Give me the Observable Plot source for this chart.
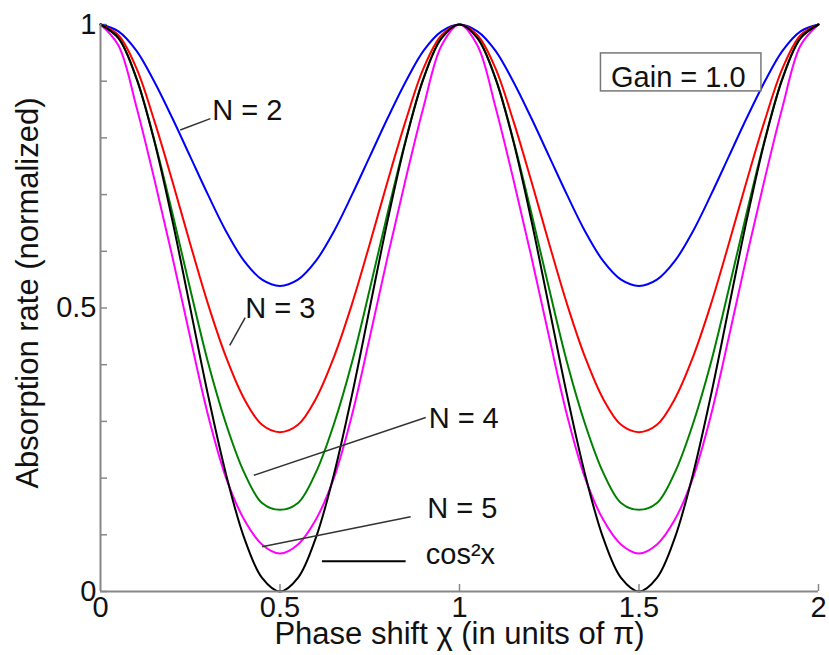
<!DOCTYPE html>
<html>
<head>
<meta charset="utf-8">
<script src="https://cdn.jsdelivr.net/npm/d3@7"></script>
<script src="https://cdn.jsdelivr.net/npm/@observablehq/plot@0.6"></script>
<style>
  body { margin: 0; background: #fff; }
</style>
</head>
<body>
<div id="chart"></div>
<script>
// Phase shift (in units of pi)
const phase = [0,0.05,0.1,0.15,0.2,0.25,0.3,0.35,0.4,0.45,0.5,0.55,0.6,0.65,0.7,0.75,0.8,0.85,0.9,0.95,1,1.05,1.1,1.15,1.2,1.25,1.3,1.35,1.4,1.45,1.5,1.55,1.6,1.65,1.7,1.75,1.8,1.85,1.9,1.95,2];

// Absorption rate (normalized)
const n2 = [1,0.988,0.954,0.899,0.835,0.767,0.699,0.635,0.583,0.550,0.539,0.550,0.583,0.635,0.699,0.767,0.835,0.899,0.954,0.988,1,0.988,0.954,0.899,0.835,0.767,0.699,0.635,0.583,0.550,0.539,0.550,0.583,0.635,0.699,0.767,0.835,0.899,0.954,0.988,1];
const n3 = [1,0.981,0.923,0.830,0.724,0.613,0.506,0.413,0.340,0.294,0.281,0.294,0.340,0.413,0.506,0.613,0.724,0.830,0.923,0.981,1,0.981,0.923,0.830,0.724,0.613,0.506,0.413,0.340,0.294,0.281,0.294,0.340,0.413,0.506,0.613,0.724,0.830,0.923,0.981,1];
const n4 = [1,0.976,0.906,0.796,0.668,0.533,0.403,0.295,0.210,0.156,0.144,0.156,0.210,0.295,0.403,0.533,0.668,0.796,0.906,0.976,1,0.976,0.906,0.796,0.668,0.533,0.403,0.295,0.210,0.156,0.144,0.156,0.210,0.295,0.403,0.533,0.668,0.796,0.906,0.976,1];
const n5 = [1,0.963,0.855,0.727,0.591,0.448,0.310,0.200,0.127,0.083,0.067,0.083,0.127,0.200,0.310,0.448,0.591,0.727,0.855,0.963,1,0.963,0.855,0.727,0.591,0.448,0.310,0.200,0.127,0.083,0.067,0.083,0.127,0.200,0.310,0.448,0.591,0.727,0.855,0.963,1];
const cos2 = [1,0.976,0.905,0.794,0.655,0.500,0.345,0.206,0.095,0.024,0,0.024,0.095,0.206,0.345,0.500,0.655,0.794,0.905,0.976,1,0.976,0.905,0.794,0.655,0.500,0.345,0.206,0.095,0.024,0,0.024,0.095,0.206,0.345,0.500,0.655,0.794,0.905,0.976,1];

const seriesNames = ["N = 2", "N = 3", "N = 4", "N = 5", "cos²x"];
const seriesColors = ["#0000ff", "#ff0000", "#008000", "#ff00ff", "#000000"];

// Axis ticks and labels
const xLabels = [0, 0.5, 1, 1.5, 2];
const xTickMarks = [0.5, 1, 1.5, 2];
const yLabels = [0, 0.5, 1];
const yTickMarks = [0, 0.1, 0.2, 0.3, 0.4, 0.5, 0.6, 0.7, 0.8, 0.9, 1];

const xTitle = "Phase shift χ (in units of π)";
const yTitle = "Absorption rate (normalized)";

// Annotations (in data units)
const labelTexts = ["N = 2", "N = 3", "N = 4", "N = 5", "cos²x"];
const labelX = [0.311, 0.403, 0.914, 0.910, 0.906];
const labelY = [0.832, 0.483, 0.289, 0.1305, 0.049];
const leaderX1 = [0.222, 0.360, 0.427, 0.450];
const leaderY1 = [0.814, 0.434, 0.205, 0.079];
const leaderX2 = [0.306, 0.403, 0.906, 0.864];
const leaderY2 = [0.834, 0.483, 0.307, 0.132];
const legendLine = {x1: 0.617, x2: 0.850, y: 0.0534};
const gainText = "Gain = 1.0";
const gainBox = {x1: 1.394, x2: 1.841, y1: 0.882, y2: 0.949, tx: 1.422, ty: 0.889};

const allSeries = [n2, n3, n4, n5, cos2];
const rows = [];
allSeries.forEach((vals, i) => vals.forEach((v, j) => rows.push({x: phase[j], y: v, s: seriesNames[i]})));

const labels = labelTexts.map((t, i) => ({t, x: labelX[i], y: labelY[i]}));
const leaders = leaderX1.map((d, i) => ({x1: leaderX1[i], y1: leaderY1[i], x2: leaderX2[i], y2: leaderY2[i]}));

const FS = 29, TFS = 31;
const W = 829, H = 655, ML = 100, MR = 11, MT = 24, MB = 64;

const lineMarks = seriesNames.map((name, i) =>
  Plot.line(rows.filter(r => r.s === name), {x: "x", y: "y", stroke: seriesColors[i], strokeWidth: 2, curve: "catmull-rom"})
);

const chart = Plot.plot({
  width: W, height: H,
  marginLeft: ML, marginRight: MR, marginTop: MT, marginBottom: MB,
  style: {fontFamily: "'Liberation Sans', Arial, sans-serif", fontSize: FS + "px", color: "#111", background: "#fff"},
  x: {domain: [0, 2]},
  y: {domain: [0, 1]},
  marks: [
    Plot.axisX(xLabels, {tickSize: 0, tickPadding: 5, tickFormat: d => String(d), label: null, fontSize: FS}),
    Plot.axisY(yLabels, {tickSize: 0, tickPadding: 4, tickFormat: d => String(d), label: null, fontSize: FS}),
    Plot.tickX(xTickMarks, {x: d => d, insetTop: (H - MT - MB) - 7, stroke: "#888", strokeWidth: 1.5}),
    Plot.tickY(yTickMarks, {y: d => d, insetRight: (W - ML - MR) - 7, stroke: "#888", strokeWidth: 1.5}),
    ...lineMarks,
    Plot.ruleX([0], {stroke: "#888", strokeWidth: 2}),
    Plot.ruleY([0], {stroke: "#888", strokeWidth: 2}),
    Plot.link(leaders, {x1: "x1", y1: "y1", x2: "x2", y2: "y2", stroke: "#333", strokeWidth: 1.5}),
    Plot.link([legendLine], {x1: "x1", x2: "x2", y1: "y", y2: "y", stroke: "#000", strokeWidth: 2}),
    Plot.text(labels, {x: "x", y: "y", text: "t", textAnchor: "start", lineAnchor: "bottom", fontSize: FS, fill: "#111"}),
    Plot.rect([gainBox], {x1: "x1", x2: "x2", y1: "y1", y2: "y2", fill: "#fff", stroke: "#777", strokeWidth: 1.5}),
    Plot.text([gainBox], {x: "tx", y: "ty", text: () => gainText, textAnchor: "start", lineAnchor: "bottom", fontSize: FS, fill: "#111"}),
    Plot.text([xTitle], {frameAnchor: "bottom", text: d => d, dy: 52, textAnchor: "middle", lineAnchor: "bottom", fontSize: TFS, fill: "#111"}),
    Plot.text([yTitle], {frameAnchor: "left", text: d => d, rotate: -90, dx: -72, dy: -15, textAnchor: "middle", lineAnchor: "middle", fontSize: TFS, fill: "#111"})
  ]
});
document.getElementById("chart").appendChild(chart);
</script>
</body>
</html>
